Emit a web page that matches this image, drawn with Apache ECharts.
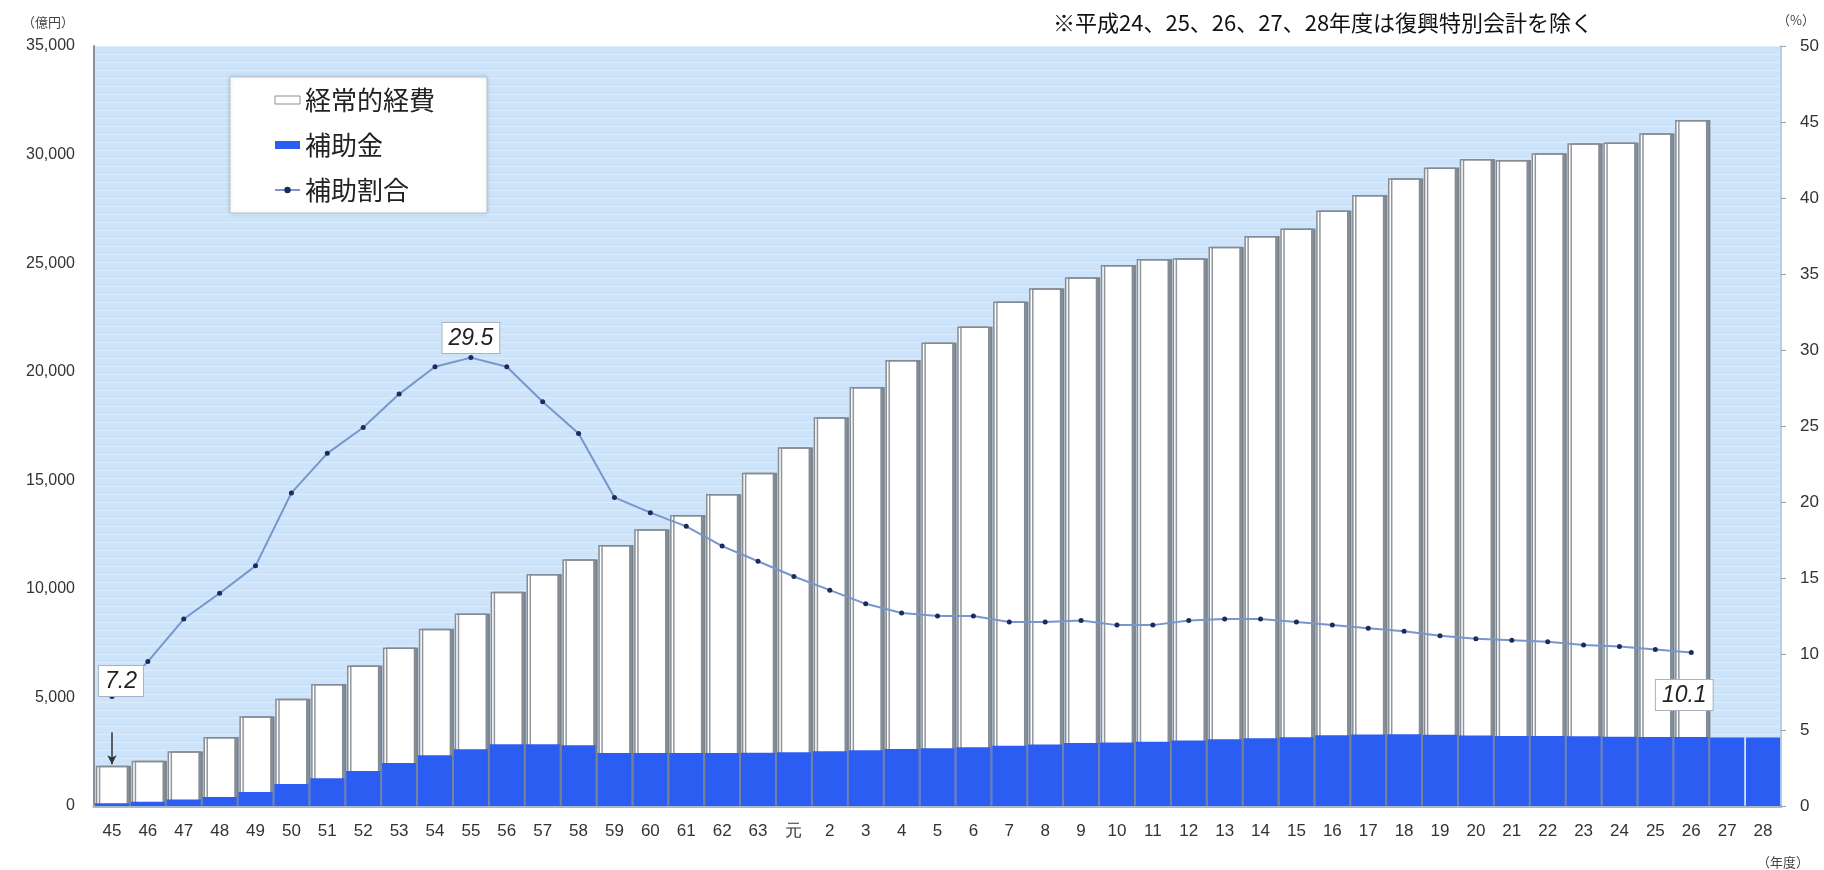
<!DOCTYPE html>
<html>
<head>
<meta charset="utf-8">
<script src="https://cdn.jsdelivr.net/npm/echarts@6/dist/echarts.min.js"></script>
<style>
html,body{margin:0;padding:0;background:#ffffff;}
#chart{width:1824px;height:870px;}
</style>
</head>
<body>
<div id="chart"></div>
<script>
// ---- data ----
const categories = ['45','46','47','48','49','50','51','52','53','54','55','56','57','58','59','60','61','62','63',
  '元','2','3','4','5','6','7','8','9','10','11','12','13','14','15','16','17','18','19','20','21','22','23','24','25','26','27','28'];

// 経常的経費 (億円)
const totalExpense = [1850,2080,2520,3180,4130,4940,5620,6470,7300,8160,8860,9870,10680,11360,12020,12740,13400,14370,15350,
  16520,17900,19300,20540,21350,22080,23230,23840,24350,24920,25190,25220,25760,26250,26600,27430,28140,28910,29410,29800,29750,30060,30520,30560,30980,31590,null,null];

// 補助金 (億円)
const subsidy = [130,200,300,420,650,1010,1280,1610,1980,2340,2610,2840,2840,2800,2440,2440,2440,2440,2450,
  2480,2520,2570,2620,2660,2700,2770,2830,2900,2930,2960,3020,3070,3120,3170,3260,3290,3310,3280,3250,3220,3220,3210,3190,3180,3180,3150,3150];

// 補助割合 (%)
const ratio = [7.2,9.5,12.3,14.0,15.8,20.6,23.2,24.9,27.1,28.9,29.5,28.9,26.6,24.5,20.3,19.3,18.4,17.1,16.1,
  15.1,14.2,13.3,12.7,12.5,12.5,12.1,12.1,12.2,11.9,11.9,12.2,12.3,12.3,12.1,11.9,11.7,11.5,11.2,11.0,10.9,10.8,10.6,10.5,10.3,10.1,null,null];

const labelledPoints = [0, 10, 44]; // 7.2, 29.5, 10.1

const noteText = '※平成24、25、26、27、28年度は復興特別会計を除く';

// ---- chart ----
const numFont = '"Liberation Sans", Arial, sans-serif';
const jpFont = '"Noto Sans CJK JP", "Noto Sans", sans-serif';

const boxLabel = {
  show: true,
  formatter: p => p.value.toFixed(1),
  fontFamily: numFont,
  fontStyle: 'italic',
  fontSize: 23,
  color: '#222',
  backgroundColor: '#ffffff',
  borderColor: '#a9b3bd',
  borderWidth: 1,
  padding: [4, 6, 3, 6]
};
const labelPlacement = {
  0: { position: 'top', distance: 0, offset: [9, 2] },
  10: { position: 'top', distance: 2, offset: [0, 0] },
  44: { position: 'bottom', distance: 25, offset: [-7, 0] }
};

const ratioData = ratio.map((v, i) => {
  if (labelledPoints.indexOf(i) >= 0) {
    return { value: v, label: Object.assign({}, boxLabel, labelPlacement[i]) };
  }
  return v;
});

const chart = echarts.init(document.getElementById('chart'), null, { renderer: 'canvas' });

chart.setOption({
  animation: false,
  backgroundColor: '#ffffff',
  grid: {
    left: 94, right: 43, top: 46, bottom: 64,
    show: true, backgroundColor: '#cbe3fb', borderWidth: 0
  },
  legend: {
    orient: 'vertical',
    left: 230, top: 77,
    padding: [10, 52, 10, 44],
    itemGap: 19,
    itemWidth: 25, itemHeight: 8,
    backgroundColor: '#ffffff',
    borderColor: '#b9c3cc', borderWidth: 1,
    shadowColor: 'rgba(0,0,0,0.15)', shadowBlur: 4,
    textStyle: { fontFamily: jpFont, fontSize: 26, lineHeight: 26, color: '#222' },
    data: [
      { name: '経常的経費', icon: 'rect', itemStyle: { color: '#ffffff', borderColor: '#8a8f95', borderWidth: 1, shadowBlur: 0, shadowOffsetX: 0, shadowColor: 'transparent' } },
      { name: '補助金', icon: 'rect' },
      { name: '補助割合' }
    ]
  },
  xAxis: [
    {
      type: 'category', data: categories, position: 'bottom',
      axisLine: { show: true, lineStyle: { color: '#6d747c', width: 2 } },
      axisTick: { show: false },
      axisLabel: { fontFamily: numFont, fontSize: 17, color: '#333', margin: 17, interval: 0 }
    },
    {
      type: 'category', data: categories, position: 'top',
      axisLine: { show: true, lineStyle: { color: '#a9b8c8', width: 3 } },
      axisTick: { show: false },
      axisLabel: { show: false }
    }
  ],
  yAxis: [
    {
      type: 'value', min: 0, max: 35000, interval: 5000, position: 'left',
      axisLine: { show: true, lineStyle: { color: '#87919b', width: 2 } },
      axisTick: { show: false },
      splitLine: { show: false },
      axisLabel: {
        fontFamily: numFont, fontSize: 16, color: '#333', margin: 19,
        formatter: v => v.toLocaleString('en-US')
      }
    },
    {
      type: 'value', min: 0, max: 50, interval: 5, position: 'right',
      axisLine: { show: true, lineStyle: { color: '#b5cfe8', width: 2 } },
      axisTick: { show: true, length: 5, lineStyle: { color: '#9aa4ae' } },
      splitLine: { show: false },
      axisLabel: { fontFamily: numFont, fontSize: 17, color: '#333', margin: 19 }
    },
    {
      // background striping of the plot area
      type: 'value', min: 0, max: 95, interval: 1, position: 'left', offset: 0,
      axisLine: { show: false }, axisTick: { show: false }, axisLabel: { show: false },
      splitLine: { show: true, lineStyle: { color: 'rgba(255,255,255,0.35)', width: 1 } }
    }
  ],
  graphic: [
    { type: 'text', x: 48, y: 22, style: { text: '（億円）', font: '13px ' + jpFont, fill: '#444', align: 'center', verticalAlign: 'middle' } },
    { type: 'text', x: 1796, y: 20, style: { text: '（%）', font: '13px ' + jpFont, fill: '#444', align: 'center', verticalAlign: 'middle' } },
    { type: 'text', x: 1783, y: 862, style: { text: '（年度）', font: '13px ' + jpFont, fill: '#444', align: 'center', verticalAlign: 'middle' } },
    { type: 'text', x: 1053, y: 23, style: { text: noteText, font: '22px ' + jpFont, fill: '#111', align: 'left', verticalAlign: 'middle' } }
  ],
  series: [
    {
      name: '経常的経費', type: 'bar', xAxisIndex: 0, yAxisIndex: 0,
      data: totalExpense,
      barCategoryGap: '10%',
      z: 2,
      itemStyle: {
        color: '#ffffff', borderColor: '#858b92', borderWidth: 1.5,
        shadowColor: 'rgba(110,115,120,0.75)', shadowOffsetX: 3, shadowBlur: 0
      },
      markLine: {
        silent: true,
        symbol: ['none', 'arrow'],
        symbolSize: [7, 9],
        label: { show: false },
        lineStyle: { color: '#333', width: 1.5, type: 'solid' },
        data: [[{ coord: [categories[0], 3400] }, { coord: [categories[0], 1920] }]]
      }
    },
    {
      name: '補助金', type: 'bar', xAxisIndex: 1, yAxisIndex: 0,
      data: subsidy,
      barCategoryGap: '5%',
      z: 3,
      itemStyle: { color: '#2c5df2' }
    },
    {
      name: '補助割合', type: 'line', xAxisIndex: 0, yAxisIndex: 1,
      data: ratioData,
      z: 5,
      symbol: 'circle', symbolSize: 5,
      showAllSymbol: true,
      lineStyle: { color: '#7896cc', width: 2 },
      itemStyle: { color: '#1b2b5e' },
      label: { show: false }
    }
  ]
});
</script>
</body>
</html>
